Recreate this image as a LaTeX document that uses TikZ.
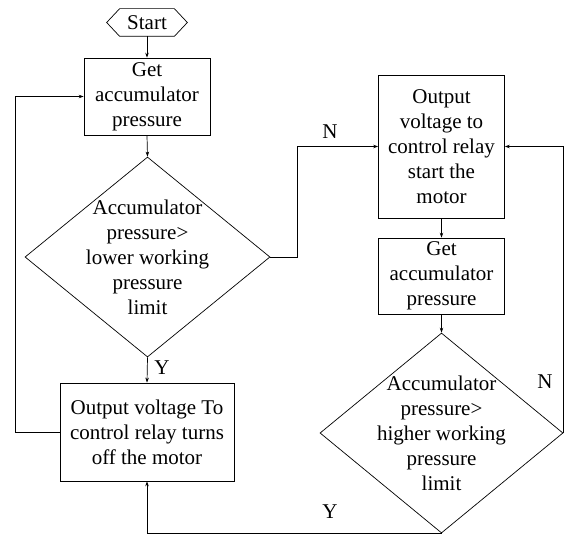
\documentclass[tikz,border=0pt]{standalone}
\usepackage{fontspec}
\setmainfont{Liberation Serif}
\usetikzlibrary{shapes.geometric,arrows.meta}
\begin{document}
\begin{tikzpicture}[x=1pt,y=-1pt,
  font=\fontsize{21}{25}\selectfont,
  line width=0.7pt,
  box/.style={draw,rectangle,inner sep=0pt,align=center},
  dia/.style={draw,diamond,inner sep=0pt},
  txt/.style={align=center,inner sep=0pt},
  lbl/.style={inner sep=0pt},
  arr/.style={-{Stealth[length=5pt,width=3.5pt]}}]
\useasboundingbox (0,0) rectangle (564,535);
% start
\node[inner sep=0pt,minimum width=80pt,minimum height=27pt] (start) at (147,22.5) {Start};
\draw (start.west) -- ([xshift=13pt]start.north west) -- ([xshift=-13pt]start.north east) -- (start.east) -- ([xshift=-13pt]start.south east) -- ([xshift=13pt]start.south west) -- cycle;
% left column
\node[box,minimum width=126pt,minimum height=77pt] (b1) at (147,96.5) {Get\\accumulator\\pressure};
\node[dia,minimum width=245pt,minimum height=200pt] (d1) at (147.5,257) {};
\node[txt] (t1) at (d1.center) {Accumulator\\pressure>\\lower working\\pressure\\limit};
\node[box,minimum width=174pt,minimum height=98pt] (b2) at (147,432) {Output voltage To\\control relay turns\\off the motor};
% right column
\node[box,minimum width=126pt,minimum height=143pt] (b3) at (441.5,146.5) {Output\\voltage to\\control relay\\start the\\motor};
\node[box,minimum width=126pt,minimum height=76pt] (b4) at (441.5,276) {Get\\accumulator\\pressure};
\node[dia,minimum width=243pt,minimum height=200pt] (d2) at (441.5,433) {};
\node[txt] (t2) at (d2.center) {Accumulator\\pressure>\\higher working\\pressure\\limit};
% helper coordinates
\coordinate (lx) at (15,0);
\coordinate (nx) at (297,0);
% connectors
\draw[arr] (start.south) -- (b1.north);
\draw[arr] (b1.south) -- (d1.north);
\draw[arr] (d1.south) -- (b2.north);
\draw[arr] (b2.west) -- (b2.west -| lx) |- (b1.west);
\draw[arr] (d1.east) -- (d1.east -| nx) |- (b3.west);
\draw[arr] (b3.south) -- (b4.north);
\draw[arr] (b4.south) -- (d2.north);
\draw[arr] (d2.east) |- (b3.east);
\draw[arr] (d2.south) -| (b2.south);
% labels
\node[lbl] (ly1) at (162,368) {Y};
\node[lbl] (ln1) at (330,132) {N};
\node[lbl] (ln2) at (545,382) {N};
\node[lbl] (ly2) at (330,512) {Y};
\end{tikzpicture}
\end{document}
